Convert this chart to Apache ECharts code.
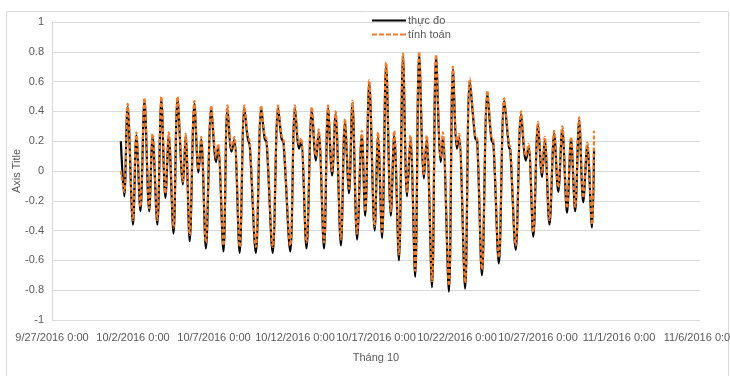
<!DOCTYPE html>
<html>
<head>
<meta charset="utf-8">
<script src="https://cdn.jsdelivr.net/npm/echarts@6/dist/echarts.min.js"></script>
<style>
	html, body {margin: 0; padding: 0; background: #fff;}
	#main {width: 730px; height: 376px;}
</style>
</head>
<body>
<div id="main"></div>
<script>
// hours after 10/1/2016 0:00 of each turning point
const hours = [
	6, 11, 16, 24, 29, 35, 41, 48, 53, 60, 66, 72, 77, 84, 90, 98, 102, 108, 115, 121,
	125, 132, 140, 147, 150, 158, 164, 170, 174, 182, 189, 194, 197, 206, 214, 219, 222, 231, 239, 244,
	247, 257, 264, 270, 273, 281, 289, 295, 299, 307, 313, 319, 324, 332, 338, 344, 349, 356, 363, 368,
	374, 382, 387, 393, 399, 406, 411, 418, 424, 430, 435, 442, 448, 455, 459, 467, 473, 480, 483, 492,
	498, 504, 507, 516, 523, 531, 534, 541, 549, 555, 558, 566, 574, 581, 583, 591, 599, 606, 610, 617,
	624, 630, 634, 641, 648, 654, 660, 667, 673, 679, 685, 691, 697, 704, 707
];
// thực đo (measured)
const measured = [
	0.20, -0.17, 0.43, -0.36, 0.24, -0.27, 0.47, -0.27, 0.23, -0.36, 0.48, -0.18, 0.23, -0.42, 0.48, -0.09, 0.23, -0.47, 0.45, -0.01,
	0.21, -0.52, 0.42, 0.06, 0.16, -0.54, 0.42, 0.13, 0.21, -0.55, 0.42, 0.22, 0.17, -0.55, 0.42, 0.22, 0.19, -0.55, 0.42, 0.22,
	0.19, -0.54, 0.42, 0.15, 0.20, -0.52, 0.41, 0.07, 0.26, -0.52, 0.42, -0.03, 0.38, -0.50, 0.33, -0.15, 0.45, -0.46, 0.24, -0.30,
	0.59, -0.40, 0.23, -0.45, 0.71, -0.30, 0.24, -0.60, 0.77, -0.17, 0.21, -0.71, 0.78, -0.05, 0.21, -0.78, 0.77, 0.06, 0.23, -0.81,
	0.68, 0.15, 0.23, -0.79, 0.60, 0.22, 0.20, -0.70, 0.52, 0.21, 0.18, -0.62, 0.47, 0.16, 0.14, -0.53, 0.38, 0.07, 0.16, -0.44,
	0.31, -0.04, 0.21, -0.36, 0.25, -0.14, 0.28, -0.28, 0.21, -0.27, 0.34, -0.21, 0.17, -0.38, 0.14
];
// tính toán (computed)
const computed = [
	0.00, -0.14, 0.45, -0.33, 0.26, -0.24, 0.49, -0.25, 0.25, -0.33, 0.50, -0.15, 0.26, -0.38, 0.50, -0.07, 0.25, -0.43, 0.47, 0.01,
	0.23, -0.48, 0.44, 0.09, 0.18, -0.50, 0.44, 0.15, 0.23, -0.51, 0.44, 0.24, 0.19, -0.51, 0.44, 0.24, 0.21, -0.51, 0.44, 0.24,
	0.21, -0.50, 0.44, 0.18, 0.22, -0.48, 0.43, 0.10, 0.28, -0.48, 0.44, 0.00, 0.40, -0.46, 0.35, -0.12, 0.47, -0.42, 0.27, -0.27,
	0.61, -0.37, 0.26, -0.41, 0.73, -0.27, 0.27, -0.56, 0.79, -0.14, 0.24, -0.67, 0.80, -0.02, 0.24, -0.74, 0.78, 0.09, 0.26, -0.77,
	0.70, 0.18, 0.25, -0.75, 0.62, 0.24, 0.22, -0.66, 0.54, 0.23, 0.20, -0.58, 0.49, 0.18, 0.16, -0.50, 0.40, 0.10, 0.18, -0.41,
	0.33, -0.01, 0.23, -0.33, 0.27, -0.11, 0.30, -0.25, 0.23, -0.24, 0.36, -0.18, 0.19, -0.36, 0.27
];
const yTicks = {min: -1, max: 1, step: 0.2};
const xTicks = {start: new Date(2016, 8, 27), days: 40, stepDays: 5};
const seriesNames = ['thực đo', 'tính toán'];

// x axis runs in hours after 9/27/2016 0:00, data starts 96 h later
const offset = 96;
const pts = vals => hours.map((h, i) => [h + offset, vals[i]]);

function fmtDate(h) {
	const d = new Date(xTicks.start.getTime() + h * 3600e3);
	return (d.getMonth() + 1) + '/' + d.getDate() + '/' + d.getFullYear() + ' ' + d.getHours() + ':' + String(d.getMinutes()).padStart(2, '0');
}

const font = 'Liberation Sans, Arial, sans-serif';
const grey = '#595959';
const gridCol = '#d9d9d9';
// legend icons: plain bar and a dashed bar
const solidIcon = 'path://M0,0h34v2h-34z';
const dashIcon = 'path://M0,0h5v2h-5zM7,0h5v2h-5zM14,0h5v2h-5zM21,0h5v2h-5zM28,0h6v2h-6z';

const chart = echarts.init(document.getElementById('main'));
chart.setOption({
	animation: false,
	textStyle: {fontFamily: font},
	graphic: [{
		type: 'rect',
		shape: {x: 6.5, y: 11.5, width: 722, height: 380},
		style: {fill: 'none', stroke: gridCol, lineWidth: 1},
		silent: true
	}],
	grid: {left: 52, right: 30, top: 22, bottom: 56, outerBoundsMode: 'none'},
	legend: {
		orient: 'vertical',
		left: 367,
		top: 10,
		itemWidth: 34,
		itemHeight: 8,
		itemGap: 3,
		textStyle: {fontSize: 11, color: grey, fontFamily: font, padding: [0, 0, 0, -3]},
		data: [
			{name: seriesNames[0], icon: solidIcon},
			{name: seriesNames[1], icon: dashIcon}
		]
	},
	xAxis: {
		type: 'value',
		min: 0,
		max: xTicks.days * 24,
		interval: xTicks.stepDays * 24,
		name: 'Tháng 10',
		nameLocation: 'middle',
		nameGap: 32,
		nameTextStyle: {fontSize: 11, color: grey},
		axisLine: {show: true, lineStyle: {color: gridCol}},
		axisTick: {show: false},
		splitLine: {show: false},
		axisLabel: {fontSize: 11, color: grey, margin: 12, formatter: fmtDate}
	},
	yAxis: {
		type: 'value',
		min: yTicks.min,
		max: yTicks.max,
		interval: yTicks.step,
		name: 'Axis Title',
		nameLocation: 'middle',
		nameGap: 30,
		nameMoveOverlap: false,
		nameTextStyle: {fontSize: 11, color: grey},
		axisLine: {show: true, lineStyle: {color: gridCol}},
		axisTick: {show: false},
		splitLine: {lineStyle: {color: gridCol}},
		axisLabel: {fontSize: 11, color: grey, margin: 8, formatter: v => String(Math.round(v * 10) / 10)}
	},
	series: [
		{
			name: seriesNames[0],
			type: 'line',
			data: pts(measured),
			symbol: 'none',
			smooth: 0.35,
			lineStyle: {color: '#000', width: 2.2},
			itemStyle: {color: '#000'}
		},
		{
			name: seriesNames[1],
			type: 'line',
			data: pts(computed),
			symbol: 'none',
			smooth: 0.35,
			lineStyle: {color: '#ed7d31', width: 2.2, type: [4, 2]},
			itemStyle: {color: '#ed7d31'}
		}
	]
});
</script>
</body>
</html>
